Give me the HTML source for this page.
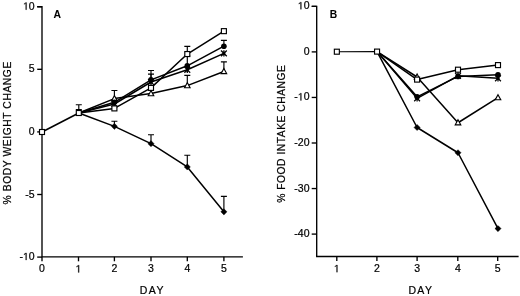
<!DOCTYPE html>
<html><head><meta charset="utf-8"><style>
html,body{margin:0;padding:0;background:#fff;width:520px;height:296px;overflow:hidden}
svg{display:block;will-change:transform}
text{font-family:"Liberation Sans", sans-serif;fill:#000;stroke:#000;stroke-width:0.22px}
</style></head><body>
<svg width="520" height="296" viewBox="0 0 520 296">
<path d="M37.2 6.70L42.0 6.70L42.0 256.8L242.9 256.8" fill="none" stroke="#000" stroke-width="1.35" stroke-linejoin="miter"/>
<path d="M37.2 6.70L42.0 6.70" stroke="#000" stroke-width="1.35"/>
<polygon points="25.66,9.70 25.66,3.36 24.03,4.52 24.03,3.65 25.74,2.48 26.59,2.48 26.59,9.70" fill="#000" stroke="#000" stroke-width="0.22"/><text x="28.86" y="9.70" font-size="10.5">0</text>
<path d="M37.2 69.30L42.0 69.30" stroke="#000" stroke-width="1.35"/>
<text x="28.86" y="72.30" font-size="10.5">5</text>
<path d="M37.2 131.90L42.0 131.90" stroke="#000" stroke-width="1.35"/>
<text x="28.86" y="134.90" font-size="10.5">0</text>
<path d="M37.2 194.50L42.0 194.50" stroke="#000" stroke-width="1.35"/>
<text x="25.36" y="197.50" font-size="10.5">-</text><text x="28.86" y="197.50" font-size="10.5">5</text>
<path d="M37.2 257.10L42.0 257.10" stroke="#000" stroke-width="1.35"/>
<text x="19.52" y="260.10" font-size="10.5">-</text><polygon points="25.66,260.10 25.66,253.76 24.03,254.92 24.03,254.05 25.74,252.88 26.59,252.88 26.59,260.10" fill="#000" stroke="#000" stroke-width="0.22"/><text x="28.86" y="260.10" font-size="10.5">0</text>
<path d="M42.00 256.8L42.00 261.3" stroke="#000" stroke-width="1.35"/>
<text x="39.08" y="272.40" font-size="10.5">0</text>
<path d="M78.50 256.8L78.50 261.3" stroke="#000" stroke-width="1.35"/>
<polygon points="78.22,272.40 78.22,266.06 76.59,267.22 76.59,266.35 78.30,265.18 79.15,265.18 79.15,272.40" fill="#000" stroke="#000" stroke-width="0.22"/>
<path d="M114.40 256.8L114.40 261.3" stroke="#000" stroke-width="1.35"/>
<text x="111.48" y="272.40" font-size="10.5">2</text>
<path d="M151.00 256.8L151.00 261.3" stroke="#000" stroke-width="1.35"/>
<text x="148.08" y="272.40" font-size="10.5">3</text>
<path d="M187.30 256.8L187.30 261.3" stroke="#000" stroke-width="1.35"/>
<text x="184.38" y="272.40" font-size="10.5">4</text>
<path d="M223.90 256.8L223.90 261.3" stroke="#000" stroke-width="1.35"/>
<text x="220.98" y="272.40" font-size="10.5">5</text>
<text x="53.40" y="17.80" text-anchor="start" font-size="10.4" font-weight="bold" style="stroke-width:0.05px">A</text>
<text x="152.35" y="293.70" text-anchor="middle" font-size="10.5" font-weight="normal" letter-spacing="1.4">DAY</text>
<text x="0.00" y="0.00" text-anchor="middle" font-size="10.3" font-weight="normal" transform="translate(11.0 132.8) rotate(-90)" letter-spacing="0.58">% BODY WEIGHT CHANGE</text>
<path d="M78.80 113.00L78.80 104.70M75.80 104.70L81.80 104.70" stroke="#000" stroke-width="1.15" fill="none"/>
<path d="M78.80 113.00L78.80 109.50M75.80 109.50L81.80 109.50" stroke="#000" stroke-width="1.15" fill="none"/>
<path d="M114.40 98.60L114.40 90.50M111.40 90.50L117.40 90.50" stroke="#000" stroke-width="1.15" fill="none"/>
<path d="M151.00 79.90L151.00 70.50M148.00 70.50L154.00 70.50" stroke="#000" stroke-width="1.15" fill="none"/>
<path d="M151.00 79.90L151.00 74.10M148.00 74.10L154.00 74.10" stroke="#000" stroke-width="1.15" fill="none"/>
<path d="M187.30 54.05L187.30 46.40M184.30 46.40L190.30 46.40" stroke="#000" stroke-width="1.15" fill="none"/>
<path d="M187.30 65.80L187.30 56.00M184.30 56.00L190.30 56.00" stroke="#000" stroke-width="1.15" fill="none"/>
<path d="M187.30 85.60L187.30 75.30M184.30 75.30L190.30 75.30" stroke="#000" stroke-width="1.15" fill="none"/>
<path d="M223.90 46.10L223.90 40.30M220.90 40.30L226.90 40.30" stroke="#000" stroke-width="1.15" fill="none"/>
<path d="M223.90 71.50L223.90 61.80M220.90 61.80L226.90 61.80" stroke="#000" stroke-width="1.15" fill="none"/>
<path d="M114.40 126.35L114.40 121.20M111.40 121.20L117.40 121.20" stroke="#000" stroke-width="1.15" fill="none"/>
<path d="M151.00 143.65L151.00 134.70M148.00 134.70L154.00 134.70" stroke="#000" stroke-width="1.15" fill="none"/>
<path d="M187.30 166.95L187.30 155.20M184.30 155.20L190.30 155.20" stroke="#000" stroke-width="1.15" fill="none"/>
<path d="M223.90 211.80L223.90 196.40M220.90 196.40L226.90 196.40" stroke="#000" stroke-width="1.15" fill="none"/>
<path d="M42.00 132.00L78.80 113.00" fill="none" stroke="#000" stroke-width="1.5" stroke-linejoin="round"/>
<path d="M78.80 113.00L114.40 108.40L151.00 87.90L187.30 54.05L223.90 31.15" fill="none" stroke="#000" stroke-width="1.5" stroke-linejoin="round"/>
<path d="M78.80 113.00L114.40 102.30L151.00 79.90L187.30 65.80L223.90 46.20" fill="none" stroke="#000" stroke-width="1.5" stroke-linejoin="round"/>
<path d="M78.80 113.00L114.40 104.00L151.00 82.00L187.30 69.80L223.90 53.40" fill="none" stroke="#000" stroke-width="1.5" stroke-linejoin="round"/>
<path d="M78.80 113.00L114.40 98.60L151.00 93.60L187.30 85.60L223.90 71.50" fill="none" stroke="#000" stroke-width="1.5" stroke-linejoin="round"/>
<path d="M78.80 113.00L114.40 126.35L151.00 143.65L187.30 166.95L223.90 211.80" fill="none" stroke="#000" stroke-width="1.5" stroke-linejoin="round"/>
<rect x="39.50" y="129.50" width="5.0" height="5.0" fill="#fff" stroke="#000" stroke-width="1.15"/>
<rect x="76.30" y="110.50" width="5.0" height="5.0" fill="#fff" stroke="#000" stroke-width="1.15"/>
<path d="M114.40 123.25L117.50 126.35L114.40 129.45L111.30 126.35Z" fill="#000" stroke="#000" stroke-width="0.4" stroke-linejoin="round"/>
<path d="M114.40 95.60L117.16 100.70L111.64 100.70Z" fill="#fff" stroke="#000" stroke-width="1.15" stroke-linejoin="miter"/>
<path d="M114.40 100.80L114.40 107.20M111.50 101.10L117.30 106.90M117.30 101.10L111.50 106.90" stroke="#000" stroke-width="1.25" fill="none"/><circle cx="114.40" cy="104.00" r="1.5" fill="#000"/>
<circle cx="114.40" cy="102.30" r="2.8" fill="#000"/>
<rect x="111.90" y="105.90" width="5.0" height="5.0" fill="#fff" stroke="#000" stroke-width="1.15"/>
<path d="M151.00 140.55L154.10 143.65L151.00 146.75L147.90 143.65Z" fill="#000" stroke="#000" stroke-width="0.4" stroke-linejoin="round"/>
<path d="M151.00 90.60L153.76 95.70L148.24 95.70Z" fill="#fff" stroke="#000" stroke-width="1.15" stroke-linejoin="miter"/>
<path d="M151.00 78.80L151.00 85.20M148.10 79.10L153.90 84.90M153.90 79.10L148.10 84.90" stroke="#000" stroke-width="1.25" fill="none"/><circle cx="151.00" cy="82.00" r="1.5" fill="#000"/>
<circle cx="151.00" cy="79.90" r="2.8" fill="#000"/>
<rect x="148.50" y="85.40" width="5.0" height="5.0" fill="#fff" stroke="#000" stroke-width="1.15"/>
<path d="M187.30 163.85L190.40 166.95L187.30 170.05L184.20 166.95Z" fill="#000" stroke="#000" stroke-width="0.4" stroke-linejoin="round"/>
<path d="M187.30 82.60L190.06 87.70L184.54 87.70Z" fill="#fff" stroke="#000" stroke-width="1.15" stroke-linejoin="miter"/>
<path d="M187.30 66.60L187.30 73.00M184.40 66.90L190.20 72.70M190.20 66.90L184.40 72.70" stroke="#000" stroke-width="1.25" fill="none"/><circle cx="187.30" cy="69.80" r="1.5" fill="#000"/>
<circle cx="187.30" cy="65.80" r="2.8" fill="#000"/>
<rect x="184.80" y="51.55" width="5.0" height="5.0" fill="#fff" stroke="#000" stroke-width="1.15"/>
<path d="M223.90 208.70L227.00 211.80L223.90 214.90L220.80 211.80Z" fill="#000" stroke="#000" stroke-width="0.4" stroke-linejoin="round"/>
<path d="M223.90 68.50L226.66 73.60L221.14 73.60Z" fill="#fff" stroke="#000" stroke-width="1.15" stroke-linejoin="miter"/>
<path d="M223.90 50.20L223.90 56.60M221.00 50.50L226.80 56.30M226.80 50.50L221.00 56.30" stroke="#000" stroke-width="1.25" fill="none"/><circle cx="223.90" cy="53.40" r="1.5" fill="#000"/>
<circle cx="223.90" cy="46.20" r="2.8" fill="#000"/>
<rect x="221.40" y="28.65" width="5.0" height="5.0" fill="#fff" stroke="#000" stroke-width="1.15"/>
<path d="M311.70 6.35L316.7 6.35L316.7 256.5L518.6 256.5" fill="none" stroke="#000" stroke-width="1.35" stroke-linejoin="miter"/>
<path d="M311.70 6.35L316.7 6.35" stroke="#000" stroke-width="1.35"/>
<polygon points="300.46,9.35 300.46,3.01 298.83,4.17 298.83,3.30 300.54,2.13 301.39,2.13 301.39,9.35" fill="#000" stroke="#000" stroke-width="0.22"/><text x="303.66" y="9.35" font-size="10.5">0</text>
<path d="M311.70 51.90L316.7 51.90" stroke="#000" stroke-width="1.35"/>
<text x="303.66" y="54.90" font-size="10.5">0</text>
<path d="M311.70 97.45L316.7 97.45" stroke="#000" stroke-width="1.35"/>
<text x="294.32" y="100.45" font-size="10.5">-</text><polygon points="300.46,100.45 300.46,94.11 298.83,95.27 298.83,94.40 300.54,93.23 301.39,93.23 301.39,100.45" fill="#000" stroke="#000" stroke-width="0.22"/><text x="303.66" y="100.45" font-size="10.5">0</text>
<path d="M311.70 143.00L316.7 143.00" stroke="#000" stroke-width="1.35"/>
<text x="294.32" y="146.00" font-size="10.5">-</text><text x="297.82" y="146.00" font-size="10.5">2</text><text x="303.66" y="146.00" font-size="10.5">0</text>
<path d="M311.70 188.55L316.7 188.55" stroke="#000" stroke-width="1.35"/>
<text x="294.32" y="191.55" font-size="10.5">-</text><text x="297.82" y="191.55" font-size="10.5">3</text><text x="303.66" y="191.55" font-size="10.5">0</text>
<path d="M311.70 234.10L316.7 234.10" stroke="#000" stroke-width="1.35"/>
<text x="294.32" y="237.10" font-size="10.5">-</text><text x="297.82" y="237.10" font-size="10.5">4</text><text x="303.66" y="237.10" font-size="10.5">0</text>
<path d="M336.80 256.5L336.80 261.0" stroke="#000" stroke-width="1.35"/>
<polygon points="336.52,272.20 336.52,265.86 334.89,267.02 334.89,266.15 336.60,264.98 337.45,264.98 337.45,272.20" fill="#000" stroke="#000" stroke-width="0.22"/>
<path d="M376.90 256.5L376.90 261.0" stroke="#000" stroke-width="1.35"/>
<text x="373.98" y="272.20" font-size="10.5">2</text>
<path d="M417.10 256.5L417.10 261.0" stroke="#000" stroke-width="1.35"/>
<text x="414.18" y="272.20" font-size="10.5">3</text>
<path d="M457.80 256.5L457.80 261.0" stroke="#000" stroke-width="1.35"/>
<text x="454.88" y="272.20" font-size="10.5">4</text>
<path d="M497.70 256.5L497.70 261.0" stroke="#000" stroke-width="1.35"/>
<text x="494.78" y="272.20" font-size="10.5">5</text>
<text x="329.70" y="17.60" text-anchor="start" font-size="10.3" font-weight="bold" style="stroke-width:0.05px">B</text>
<text x="420.85" y="293.80" text-anchor="middle" font-size="10.5" font-weight="normal" letter-spacing="1.3">DAY</text>
<text x="0.00" y="0.00" text-anchor="middle" font-size="10.3" font-weight="normal" transform="translate(284.5 133.7) rotate(-90)" letter-spacing="0.51">% FOOD INTAKE CHANGE</text>
<path d="M336.85 51.70L377.05 51.60" fill="none" stroke="#000" stroke-width="1.15" stroke-linejoin="round"/>
<path d="M377.05 51.60L417.10 127.50L458.00 152.75L498.00 228.60" fill="none" stroke="#000" stroke-width="1.5" stroke-linejoin="round"/>
<path d="M377.05 51.60L417.10 77.00L458.00 122.75L498.00 97.65" fill="none" stroke="#000" stroke-width="1.5" stroke-linejoin="round"/>
<path d="M377.05 51.60L417.10 98.30L458.00 75.80L498.00 78.30" fill="none" stroke="#000" stroke-width="1.5" stroke-linejoin="round"/>
<path d="M377.05 51.60L417.10 96.80L458.00 76.40L498.00 74.70" fill="none" stroke="#000" stroke-width="1.5" stroke-linejoin="round"/>
<path d="M377.05 51.60L417.10 79.60L458.00 69.70L498.00 65.10" fill="none" stroke="#000" stroke-width="1.5" stroke-linejoin="round"/>
<rect x="334.35" y="49.20" width="5.0" height="5.0" fill="#fff" stroke="#000" stroke-width="1.15"/>
<rect x="374.55" y="49.10" width="5.0" height="5.0" fill="#fff" stroke="#000" stroke-width="1.15"/>
<path d="M417.10 124.40L420.20 127.50L417.10 130.60L414.00 127.50Z" fill="#000" stroke="#000" stroke-width="0.4" stroke-linejoin="round"/>
<path d="M417.10 74.00L419.86 79.10L414.34 79.10Z" fill="#fff" stroke="#000" stroke-width="1.15" stroke-linejoin="miter"/>
<path d="M417.10 95.10L417.10 101.50M414.20 95.40L420.00 101.20M420.00 95.40L414.20 101.20" stroke="#000" stroke-width="1.25" fill="none"/><circle cx="417.10" cy="98.30" r="1.5" fill="#000"/>
<circle cx="417.10" cy="96.80" r="2.8" fill="#000"/>
<rect x="414.60" y="77.10" width="5.0" height="5.0" fill="#fff" stroke="#000" stroke-width="1.15"/>
<path d="M458.00 149.65L461.10 152.75L458.00 155.85L454.90 152.75Z" fill="#000" stroke="#000" stroke-width="0.4" stroke-linejoin="round"/>
<path d="M458.00 119.75L460.76 124.85L455.24 124.85Z" fill="#fff" stroke="#000" stroke-width="1.15" stroke-linejoin="miter"/>
<path d="M458.00 72.60L458.00 79.00M455.10 72.90L460.90 78.70M460.90 72.90L455.10 78.70" stroke="#000" stroke-width="1.25" fill="none"/><circle cx="458.00" cy="75.80" r="1.5" fill="#000"/>
<circle cx="458.00" cy="76.40" r="2.8" fill="#000"/>
<rect x="455.50" y="67.20" width="5.0" height="5.0" fill="#fff" stroke="#000" stroke-width="1.15"/>
<path d="M498.00 225.50L501.10 228.60L498.00 231.70L494.90 228.60Z" fill="#000" stroke="#000" stroke-width="0.4" stroke-linejoin="round"/>
<path d="M498.00 94.65L500.76 99.75L495.24 99.75Z" fill="#fff" stroke="#000" stroke-width="1.15" stroke-linejoin="miter"/>
<path d="M498.00 75.10L498.00 81.50M495.10 75.40L500.90 81.20M500.90 75.40L495.10 81.20" stroke="#000" stroke-width="1.25" fill="none"/><circle cx="498.00" cy="78.30" r="1.5" fill="#000"/>
<circle cx="498.00" cy="74.70" r="2.8" fill="#000"/>
<rect x="495.50" y="62.60" width="5.0" height="5.0" fill="#fff" stroke="#000" stroke-width="1.15"/>
</svg>
</body></html>
